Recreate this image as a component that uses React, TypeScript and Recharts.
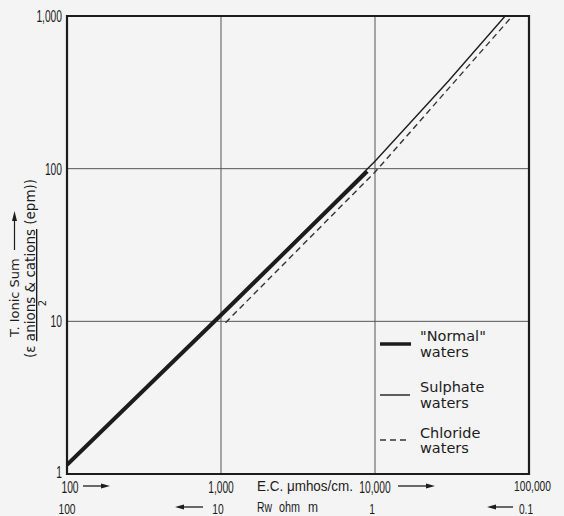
import React from 'react';
import { LineChart, Line, XAxis, YAxis, CartesianGrid, ReferenceArea } from 'recharts';

// ---- data ----
const ecTicks = [100, 1000, 10000, 100000];
const ecTickLabels = ['100', '1,000', '10,000', '100,000'];
const rwTickLabels = ['100', '10', '1', '0.1'];
const tisTicks = [1, 10, 100, 1000];
const tisTickLabels = ['1', '10', '100', '1,000'];

const normalEC = [100, 1000, 8900];
const normalTIS = [1.15, 11, 96];
const sulphateEC = [100, 1000, 10000, 30000, 70000];
const sulphateTIS = [1.15, 11, 112, 375, 1000];
const chlorideEC = [1070, 10000, 78000];
const chlorideTIS = [9.8, 95, 1000];

const seriesNames = ['"Normal"', 'Sulphate', 'Chloride'];

const normalData = normalEC.map((ec, i) => ({ ec, tis: normalTIS[i] }));
const sulphateData = sulphateEC.map((ec, i) => ({ ec, tis: sulphateTIS[i] }));
const chlorideData = chlorideEC.map((ec, i) => ({ ec, tis: chlorideTIS[i] }));

const W = 564;
const H = 516;
const INK = '#1c1c1c';
const NARROW = "'Liberation Sans Narrow', 'Liberation Sans', Arial, sans-serif";
const ROUND = "'DejaVu Sans', 'Liberation Sans', sans-serif";

// width of a narrow numeric label in px
const numWidth = (s: string) => {
  let w = 0;
  for (const c of s) w += c === ',' || c === '.' ? 2.8 : 5.7;
  return w;
};

const NumText = ({ x, y, s, anchor = 'middle', size = 16 }: any) => (
  <text
    x={x}
    y={y}
    textAnchor={anchor}
    fontFamily={NARROW}
    fontSize={size}
    fill={INK}
    textLength={numWidth(s)}
    lengthAdjust="spacingAndGlyphs"
  >
    {s}
  </text>
);

const XTick = (props: any) => {
  const { x, y, index } = props;
  const i = index ?? ecTicks.indexOf(props.payload?.value);
  const last = i === ecTicks.length - 1;
  const dx1 = i === 0 ? 3 : 0;
  const dx2 = i === 0 ? 0 : -3;
  return (
    <g>
      {!last && <NumText x={x + dx1} y={y + 17} s={ecTickLabels[i]} />}
      <NumText x={x + dx2} y={y + 38} s={rwTickLabels[i]} size={15} />
    </g>
  );
};

const YTick = (props: any) => {
  const { x, y, index } = props;
  const i = index ?? tisTicks.indexOf(props.payload?.value);
  const dy = i === 0 ? -2 : 0;
  return <NumText x={x - 3} y={y + 6 + dy} s={tisTickLabels[i]} anchor="end" />;
};

const Arrow = ({ x1, x2, y }: { x1: number; x2: number; y: number }) => {
  const dir = x2 > x1 ? 1 : -1;
  return (
    <g>
      <line x1={x1} y1={y} x2={x2 - dir * 6} y2={y} stroke={INK} strokeWidth={1.3} />
      <path d={`M${x2},${y} L${x2 - dir * 9},${y - 2.5} L${x2 - dir * 9},${y + 2.5} Z`} fill={INK} />
    </g>
  );
};

const Word = ({ x, y, w, s }: { x: number; y: number; w: number; s: string }) => (
  <text x={x} y={y} fontFamily={NARROW} fontSize={14} fill={INK} textLength={w} lengthAdjust="spacingAndGlyphs">
    {s}
  </text>
);

export default function App() {
  return (
    <div style={{ position: 'absolute', left: 0, top: 0, width: W, height: H, background: '#f4f4f4' }}>
      <LineChart
        width={W}
        height={H}
        margin={{ top: 16, right: 35, bottom: 0, left: 7 }}
      >
        <CartesianGrid stroke="#555" strokeWidth={1} />
        <XAxis
          dataKey="ec"
          type="number"
          scale="log"
          domain={[100, 100000]}
          ticks={ecTicks}
          interval={0}
          allowDataOverflow
          axisLine={false}
          tickLine={false}
          tickSize={0}
          height={42}
          tick={<XTick />}
        />
        <YAxis
          dataKey="tis"
          type="number"
          scale="log"
          domain={[1, 1000]}
          ticks={tisTicks}
          interval={0}
          allowDataOverflow
          axisLine={false}
          tickLine={false}
          tickSize={0}
          width={60}
          tick={<YTick />}
        />
        <ReferenceArea
          x1={100}
          x2={100000}
          y1={1}
          y2={1000}
          fill="none"
          fillOpacity={0}
          stroke={INK}
          strokeWidth={2.2}
          ifOverflow="visible"
        />
        <Line
          data={sulphateData}
          dataKey="tis"
          name={seriesNames[1]}
          type="linear"
          stroke={INK}
          strokeWidth={1.4}
          dot={false}
          isAnimationActive={false}
        />
        <Line
          data={chlorideData}
          dataKey="tis"
          name={seriesNames[2]}
          type="linear"
          stroke="#333"
          strokeWidth={1.4}
          strokeDasharray="6 4"
          dot={false}
          isAnimationActive={false}
        />
        <Line
          data={normalData}
          dataKey="tis"
          name={seriesNames[0]}
          type="linear"
          stroke={INK}
          strokeWidth={4}
          dot={false}
          isAnimationActive={false}
        />
      </LineChart>

      <svg
        width={W}
        height={H}
        style={{ position: 'absolute', left: 0, top: 0, pointerEvents: 'none' }}
      >
        {/* x axis annotations */}
        <Arrow x1={83} x2={110} y={486} />
        <text x={257} y={491} fontFamily={NARROW} fontSize={15} fill={INK} textLength={96} lengthAdjust="spacingAndGlyphs">
          E.C. μmhos/cm.
        </text>
        <Arrow x1={398} x2={435} y={486} />
        <NumText x={551} y={491} s={ecTickLabels[3]} anchor="end" size={15} />
        <Arrow x1={203} x2={175} y={507} />
        <Word x={257} y={512} w={15} s="Rw" />
        <Word x={279} y={512} w={21} s="ohm" />
        <Word x={308} y={512} w={10} s="m" />
        <Arrow x1={513} x2={487} y={507} />

        {/* y axis title */}
        <text transform="translate(19,337) rotate(-90)" fontFamily={ROUND} fontSize={13} fill={INK}>
          T. Ionic Sum
        </text>
        <line x1={14.5} y1={250} x2={14.5} y2={220} stroke={INK} strokeWidth={1.2} />
        <path d="M14.5,211 L12,221 L17,221 Z" fill={INK} />
        <text transform="translate(35,358) rotate(-90)" fontFamily={ROUND} fontSize={13.5} fill={INK}>
          (ε <tspan textDecoration="underline">anions &amp; cations</tspan> (epm))
        </text>
        <text transform="translate(46,303) rotate(-90)" textAnchor="middle" fontFamily={ROUND} fontSize={10} fill={INK}>
          2
        </text>

        {/* legend */}
        <line x1={380} y1={344} x2={411} y2={344} stroke={INK} strokeWidth={3.5} />
        <text x={420} y={341} fontFamily={ROUND} fontSize={14.5} fill={INK}>{seriesNames[0]}</text>
        <text x={420} y={357} fontFamily={ROUND} fontSize={14.5} fill={INK}>waters</text>

        <line x1={380} y1={395} x2={410} y2={395} stroke={INK} strokeWidth={1.4} />
        <text x={420} y={392} fontFamily={ROUND} fontSize={14.5} fill={INK}>{seriesNames[1]}</text>
        <text x={420} y={408} fontFamily={ROUND} fontSize={14.5} fill={INK}>waters</text>

        <line x1={380} y1={440} x2={410} y2={440} stroke="#333" strokeWidth={1.4} strokeDasharray="6 4" />
        <text x={420} y={438} fontFamily={ROUND} fontSize={14.5} fill={INK}>{seriesNames[2]}</text>
        <text x={420} y={453} fontFamily={ROUND} fontSize={14.5} fill={INK}>waters</text>
      </svg>
    </div>
  );
}
